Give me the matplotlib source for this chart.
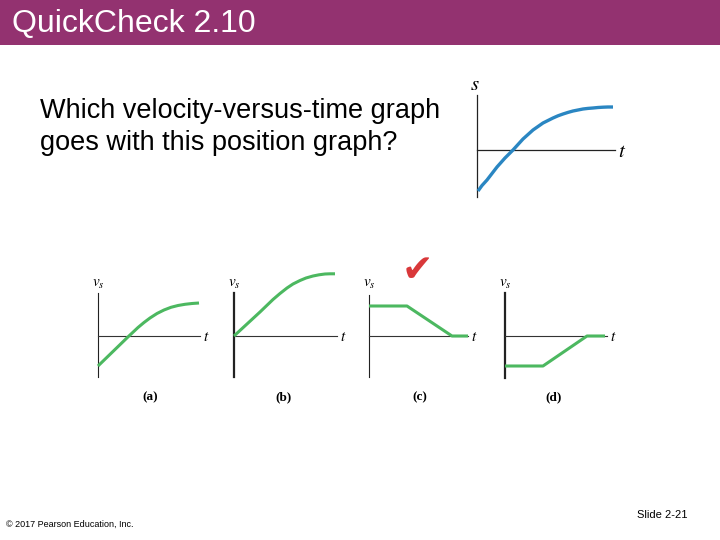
import matplotlib
matplotlib.use("Agg")
import matplotlib.pyplot as plt
from matplotlib.patches import Rectangle

plt.rcParams["mathtext.fontset"] = "stix"

# position graph s(t), units of 10 px from the axis origin
t_pos = [0.1, 0.5, 1.0, 1.5, 2.0, 2.4, 2.8, 3.2, 3.6, 4.1, 4.6, 5.1, 5.6, 6.1, 6.6,
         7.1, 7.6, 8.1, 8.6, 9.1, 9.6, 10.1, 10.6, 11.1, 11.6, 12.1, 12.6, 13.1, 13.6]
s_pos = [-4.1, -3.55, -3.0, -2.35, -1.7, -1.25, -0.8, -0.4, 0.0, 0.55, 1.1, 1.55, 2.0, 2.35,
         2.7, 2.95, 3.2, 3.42, 3.6, 3.76, 3.9, 4.0, 4.1, 4.16, 4.2, 4.25, 4.28, 4.3, 4.3]

# velocity graphs (a)-(d)
t_a = [0.0, 1.0, 2.0, 3.0, 4.0, 4.6, 5.2, 5.9, 6.6, 7.3, 8.0, 8.7, 9.4, 10.1]
v_a = [-3.0, -2.03, -1.06, -0.09, 0.85, 1.35, 1.8, 2.25, 2.6, 2.87, 3.05, 3.17, 3.25, 3.3]
t_b = [0.0, 1.3, 2.6, 3.9, 4.6, 5.3, 5.9, 6.6, 7.2, 7.9, 8.5, 9.1, 9.6, 10.1]
v_b = [0.0, 1.2, 2.4, 3.65, 4.25, 4.8, 5.2, 5.55, 5.8, 6.0, 6.12, 6.2, 6.22, 6.22]
t_c = [0.0, 3.8, 8.3, 9.9]
v_c = [3.0, 3.0, 0.0, 0.0]
t_d = [0.0, 3.8, 8.2, 10.0]
v_d = [-3.0, -3.0, 0.0, 0.0]
panel_labels = ["(a)", "(b)", "(c)", "(d)"]

W, H, U = 720, 540, 10
fig = plt.figure(figsize=(7.2, 5.4), dpi=100)
fig.patch.set_facecolor("white")

# title banner
fig.patches.append(Rectangle((0, 1 - 45 / H), 1, 45 / H, transform=fig.transFigure,
                             facecolor="#933270", edgecolor="none", zorder=0))
fig.text(12 / W, 1 - 24 / H, "QuickCheck 2.10", color="white", fontsize=23,
         family="Liberation Sans", va="center", ha="left")

fig.text(40 / W, 1 - 127 / H, "Which velocity-versus-time graph\ngoes with this position graph?",
         fontsize=19.5, family="Liberation Sans", va="center", ha="left", linespacing=1.3)


def make_axes(ox, oy, xlim, ylim):
    left = (ox + xlim[0] * U) / W
    bottom = 1 - (oy - ylim[0] * U) / H
    ax = fig.add_axes([left, bottom, (xlim[1] - xlim[0]) * U / W, (ylim[1] - ylim[0]) * U / H])
    ax.set_xlim(xlim)
    ax.set_ylim(ylim)
    ax.patch.set_alpha(0)
    ax.set_xticks([])
    ax.set_yticks([])
    for side in ["top", "right"]:
        ax.spines[side].set_visible(False)
    ax.spines["left"].set_position(("data", 0))
    ax.spines["bottom"].set_position(("data", 0))
    return ax


# position graph
ax = make_axes(477, 150, (-1, 16), (-6, 7))
ax.spines["left"].set_bounds(-4.7, 5.5)
ax.spines["bottom"].set_bounds(0, 13.8)
for sp in ["left", "bottom"]:
    ax.spines[sp].set_linewidth(0.9)
    ax.spines[sp].set_color("#222222")
ax.plot(t_pos, s_pos, color="#2a86c2", lw=2.4, zorder=3, solid_capstyle="butt")
ax.text(-0.2, 6.6, "$s$", fontsize=15, ha="center", va="center")
ax.text(14.5, -0.1, "$t$", fontsize=15, ha="center", va="center")

panels = [
    (98, t_a, v_a, (-4.1, 4.3), 10.2, 5.2, 0.8),
    (234, t_b, v_b, (-4.1, 4.3), 10.3, 5.0, 1.6),
    (369, t_c, v_c, (-4.1, 4.1), 9.9, 5.1, 0.8),
    (505, t_d, v_d, (-4.2, 4.3), 10.2, 4.9, 1.6),
]
for (ox, tt, vv, vb, tend, lx, vlw), lab in zip(panels, panel_labels):
    ax = make_axes(ox, 336, (-1, 12), (-7, 7))
    ax.spines["left"].set_bounds(*vb)
    ax.spines["bottom"].set_bounds(0, tend)
    ax.spines["left"].set_linewidth(vlw)
    ax.spines["bottom"].set_linewidth(0.8)
    ax.spines["left"].set_color("#222222")
    ax.spines["bottom"].set_color("#333333")
    ax.plot(tt, vv, color="#4cb860", lw=2.2, zorder=3, solid_capstyle="butt",
            solid_joinstyle="round")
    ax.text(0.0, 5.3, "$v_s$", fontsize=11, ha="center", va="center")
    ax.text(tend + 0.6, -0.05, "$t$", fontsize=11, ha="center", va="center")
    ax.text(lx, -6.1, lab, fontsize=9.5, fontweight="bold", family="Liberation Serif",
            ha="center", va="center")

# check mark on the right answer
fig.text(417 / W, 1 - 271 / H, "\u2714", color="#d9383a", fontsize=27,
         family="DejaVu Sans", ha="center", va="center")

fig.text(6 / W, 1 - 524 / H, "\u00a9 2017 Pearson Education, Inc.", fontsize=6.5,
         family="Liberation Sans", ha="left", va="center")
fig.text(662 / W, 1 - 515 / H, "Slide 2-21", fontsize=8,
         family="Liberation Sans", ha="center", va="center")

fig.savefig("out.png", dpi=100)
